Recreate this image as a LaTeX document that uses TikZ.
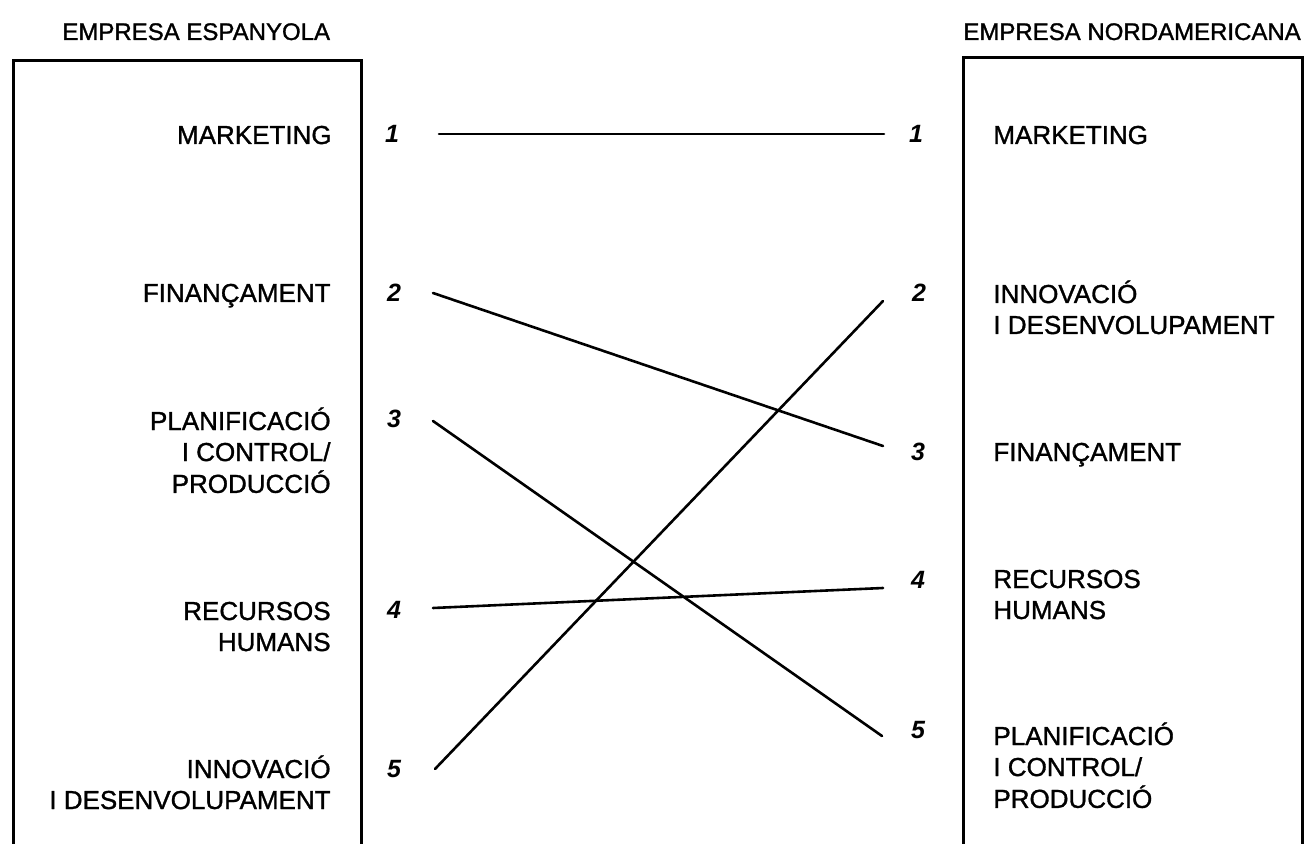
\documentclass[tikz,border=0pt]{standalone}
\usepackage{fontspec}
\setmainfont{Liberation Sans}
\newfontfamily\scanfont{Liberation Sans}[RawFeature={embolden=1.2}]
\begin{document}
\begin{tikzpicture}[x=0.5pt,y=-0.5pt,
  lbl/.style={inner sep=0pt,font=\scanfont\fontsize{13}{15.5}\selectfont},
  num/.style={inner sep=0pt,anchor=base,font=\fontsize{12.5}{15}\selectfont\bfseries\itshape},
  ttl/.style={inner sep=0pt,anchor=base west,font=\scanfont\fontsize{12}{14}\selectfont},
  frame/.style={line width=1.5pt},
  link/.style={line width=1.3pt,line cap=round}]
\useasboundingbox (0,0) rectangle (1305,844);
% frames (open at the bottom)
\draw[frame] (13,844) -- (13,61) -- (361,61) -- (361,844);
\draw[frame] (963,844) -- (963,58) -- (1302,58) -- (1302,844);
% titles
\node[ttl] (tleft) at (62,40) {EMPRESA ESPANYOLA};
\node[ttl] (tright) at (963,40) {EMPRESA NORDAMERICANA};
% left labels
\node[lbl,anchor=base east] (lmk) at (332,144) {MARKETING};
\node[lbl,anchor=base east] (lfi) at (331,302) {FINANÇAMENT};
\node[lbl,anchor=base east] (lpl) at (331,430) {\begin{tabular}[t]{@{}r@{}}PLANIFICACIÓ\\I CONTROL/\\PRODUCCIÓ\end{tabular}};
\node[lbl,anchor=base east] (lrh) at (331,620) {\begin{tabular}[t]{@{}r@{}}RECURSOS\\HUMANS\end{tabular}};
\node[lbl,anchor=base east] (lid) at (331,778) {\begin{tabular}[t]{@{}r@{}}INNOVACIÓ\\I DESENVOLUPAMENT\end{tabular}};
% right labels
\node[lbl,anchor=base west] (rmk) at (993,144) {MARKETING};
\node[lbl,anchor=base west] (rid) at (993,303) {\begin{tabular}[t]{@{}l@{}}INNOVACIÓ\\I DESENVOLUPAMENT\end{tabular}};
\node[lbl,anchor=base west] (rfi) at (993,461) {FINANÇAMENT};
\node[lbl,anchor=base west] (rrh) at (993,588) {\begin{tabular}[t]{@{}l@{}}RECURSOS\\HUMANS\end{tabular}};
\node[lbl,anchor=base west] (rpl) at (993,745) {\begin{tabular}[t]{@{}l@{}}PLANIFICACIÓ\\I CONTROL/\\PRODUCCIÓ\end{tabular}};
% numbers
\node[num] (nl1) at (392,143) {1};
\node[num] (nl2) at (394,302) {2};
\node[num] (nl3) at (394,427) {3};
\node[num] (nl4) at (394,618) {4};
\node[num] (nl5) at (394,777) {5};
\node[num] (nr1) at (916,143) {1};
\node[num] (nr2) at (919,302) {2};
\node[num] (nr3) at (918,460) {3};
\node[num] (nr4) at (918,588) {4};
\node[num] (nr5) at (918,738) {5};
% connector ends
\coordinate (a1) at (439,134);
\coordinate (a2) at (433,293);
\coordinate (a3) at (433,421);
\coordinate (a4) at (433,608);
\coordinate (a5) at (435,769);
\coordinate (b1) at (884,134);
\coordinate (b2) at (883,301);
\coordinate (b3) at (883,446);
\coordinate (b4) at (883,588);
\coordinate (b5) at (882,736);
% connectors
\draw[link] (a1) -- (b1);
\draw[link] (a2) -- (b3);
\draw[link] (a3) -- (b5);
\draw[link] (a4) -- (b4);
\draw[link] (a5) -- (b2);
\end{tikzpicture}
\end{document}
